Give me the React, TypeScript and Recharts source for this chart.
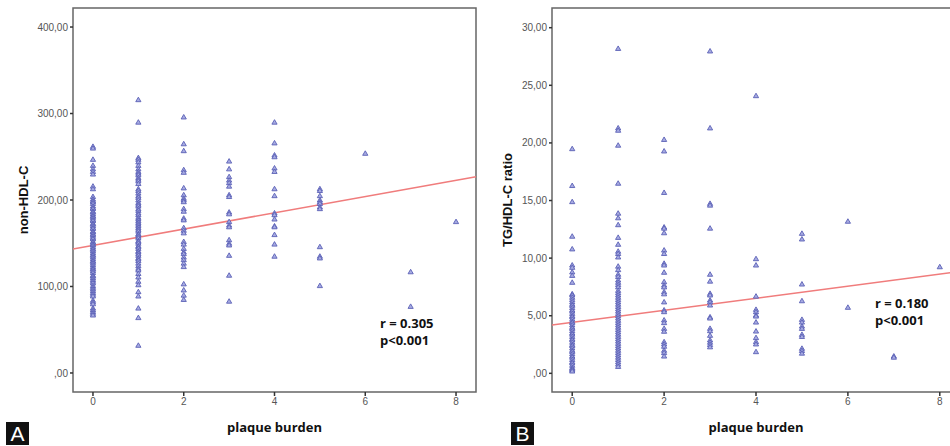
import React from "react";
import {
  ScatterChart,
  Scatter,
  XAxis,
  YAxis,
  ReferenceLine,
  ReferenceArea,
} from "recharts";

// plaque burden groups 0..8
const burdenTicks = [0, 2, 4, 6, 8];
const xDomain: [number, number] = [-0.44, 8.44];

// panel A: non-HDL-C per plaque burden group
const nonHdl0 = [262, 260, 247, 240, 236, 233, 230, 216, 213, 204, 201, 199, 198, 196, 193, 191, 190, 187, 186, 184, 182, 181, 179, 177, 176, 173, 172, 170, 168, 167, 164, 163, 161, 160, 158, 156, 155, 152, 151, 149, 148, 146, 144, 143, 141, 139, 137, 136, 134, 132, 130, 129, 127, 125, 123, 121, 120, 118, 116, 113, 112, 110, 108, 106, 104, 101, 99, 97, 95, 93, 91, 89, 84, 82, 80, 75, 73, 71, 69, 67];
const nonHdl1 = [316, 290, 249, 247, 244, 240, 236, 233, 231, 229, 226, 224, 222, 219, 213, 211, 208, 205, 203, 200, 197, 195, 193, 190, 188, 185, 183, 180, 178, 176, 174, 172, 170, 168, 166, 164, 161, 160, 158, 156, 153, 152, 150, 147, 146, 144, 141, 140, 138, 136, 133, 132, 130, 127, 124, 121, 119, 115, 111, 106, 102, 94, 89, 75, 64, 32];
const nonHdl2 = [296, 265, 257, 235, 232, 214, 206, 202, 200, 198, 190, 187, 179, 177, 168, 165, 162, 152, 149, 144, 140, 138, 134, 131, 127, 123, 103, 96, 90, 85];
const nonHdl3 = [245, 236, 227, 223, 220, 216, 206, 204, 186, 184, 175, 171, 169, 154, 150, 148, 136, 113, 83];
const nonHdl4 = [290, 266, 252, 250, 237, 233, 213, 205, 185, 183, 178, 170, 169, 160, 149, 135];
const nonHdl5 = [213, 211, 205, 200, 198, 196, 192, 190, 146, 135, 133, 101];
const nonHdl6 = [254];
const nonHdl7 = [117, 77];
const nonHdl8 = [175];
const nonHdlTicks = [0, 100, 200, 300, 400];
const nonHdlFit = { intercept: 147.6, slope: 9.4, r: "0.305", p: "0.001" };

// panel B: TG/HDL-C ratio per plaque burden group
const tgHdl0 = [19.5, 16.3, 14.9, 11.9, 10.8, 9.4, 9.2, 8.8, 8.5, 7.9, 6.9, 6.8, 6.6, 6.4, 6.2, 6.0, 5.9, 5.7, 5.5, 5.4, 5.2, 5.0, 4.9, 4.7, 4.5, 4.4, 4.2, 4.0, 3.9, 3.7, 3.5, 3.4, 3.2, 3.0, 2.9, 2.7, 2.5, 2.4, 2.2, 2.0, 1.9, 1.7, 1.5, 1.4, 1.2, 1.0, 0.9, 0.7, 0.5, 0.4, 0.3, 0.2];
const tgHdl1 = [28.2, 21.3, 21.1, 19.8, 16.5, 13.9, 13.5, 12.9, 11.8, 11.2, 10.6, 10.4, 10.1, 9.3, 9.0, 8.6, 8.4, 8.1, 7.9, 7.7, 7.5, 7.2, 7.0, 6.8, 6.6, 6.4, 6.2, 6.0, 5.8, 5.6, 5.4, 5.2, 5.0, 4.8, 4.6, 4.4, 4.2, 4.0, 3.8, 3.6, 3.4, 3.2, 3.0, 2.8, 2.6, 2.4, 2.2, 2.0, 1.8, 1.6, 1.4, 1.2, 1.0, 0.8, 0.6];
const tgHdl2 = [20.3, 19.3, 15.7, 12.7, 12.6, 12.2, 10.7, 10.4, 9.55, 9.4, 8.77, 7.95, 7.66, 7.5, 7.08, 6.9, 6.2, 5.5, 5.35, 4.63, 4.4, 3.9, 3.65, 2.74, 2.55, 2.35, 2.0, 1.8, 1.5];
const tgHdl3 = [27.98, 21.3, 14.75, 14.6, 12.6, 8.6, 8.0, 6.94, 6.8, 6.36, 6.2, 5.93, 4.9, 4.8, 3.9, 3.7, 3.3, 2.9, 2.7, 2.5, 2.3];
const tgHdl4 = [24.1, 9.95, 9.4, 6.7, 5.55, 5.35, 5.06, 4.97, 4.45, 3.67, 3.1, 2.75, 2.55, 1.88];
const tgHdl5 = [12.15, 11.66, 7.75, 6.3, 4.68, 4.45, 4.1, 3.9, 3.38, 3.2, 2.17, 1.98, 1.75];
const tgHdl6 = [13.2, 5.73];
const tgHdl7 = [1.5, 1.4];
const tgHdl8 = [9.25];
const tgHdlTicks = [0, 5, 10, 15, 20, 25, 30];
const tgHdlFit = { intercept: 4.42, slope: 0.525, r: "0.180", p: "0.001" };

const toPoints = (groups: number[][]) =>
  groups.flatMap((vals, i) => vals.map((v) => ({ x: i, y: v })));

const nonHdlPoints = toPoints([nonHdl0, nonHdl1, nonHdl2, nonHdl3, nonHdl4, nonHdl5, nonHdl6, nonHdl7, nonHdl8]);
const tgHdlPoints = toPoints([tgHdl0, tgHdl1, tgHdl2, tgHdl3, tgHdl4, tgHdl5, tgHdl6, tgHdl7, tgHdl8]);

const fmt = (v: number) => (v === 0 ? ",00" : v.toFixed(2).replace(".", ","));

function Triangle(props: any) {
  const { cx, cy } = props;
  if (cx == null || cy == null) return null;
  return (
    <polygon
      points={`${cx},${cy - 2.5} ${cx - 2.6},${cy + 2} ${cx + 2.6},${cy + 2}`}
      fill="#a7abe2"
      stroke="#5a60b6"
      strokeWidth={0.9}
    />
  );
}

const tickStyle = { fill: "#555", fontSize: 10, fontFamily: "Liberation Sans, Arial, sans-serif" };

function Panel({
  width,
  yAxisWidth,
  yDomain,
  yTicks,
  yLabel,
  yLabelX,
  points,
  fit,
}: {
  width: number;
  yAxisWidth: number;
  yDomain: [number, number];
  yTicks: number[];
  yLabel: string;
  yLabelX: number;
  points: { x: number; y: number }[];
  fit: { intercept: number; slope: number };
}) {
  const lineAt = (x: number) => fit.intercept + fit.slope * x;
  return (
    <ScatterChart width={width} height={446} margin={{ top: 8, right: 4, bottom: 0, left: 0 }}>
      <XAxis
        type="number"
        dataKey="x"
        domain={xDomain}
        ticks={burdenTicks}
        allowDataOverflow
        axisLine={false}
        tickSize={4}
        tickLine={{ stroke: "#333", strokeWidth: 1.5 }}
        tick={tickStyle}
        height={54}
        label={{
          value: "plaque burden",
          position: "insideBottom",
          offset: 14,
          style: { fontFamily: "Open Sans, sans-serif", fontWeight: 700, fontSize: 13, fill: "#111" },
        }}
      />
      <YAxis
        type="number"
        dataKey="y"
        domain={yDomain}
        ticks={yTicks}
        allowDataOverflow
        axisLine={false}
        tickSize={3}
        tickLine={{ stroke: "#333", strokeWidth: 1.5 }}
        tick={tickStyle}
        tickFormatter={fmt}
        width={yAxisWidth}
        label={{
          value: yLabel,
          angle: -90,
          position: "insideLeft",
          offset: yLabelX,
          style: { textAnchor: "middle", fontFamily: "Liberation Sans, Arial, sans-serif", fontWeight: 700, fontSize: 13, fill: "#111" },
        }}
      />
      <ReferenceArea
        x1={xDomain[0]}
        x2={xDomain[1]}
        y1={yDomain[0]}
        y2={yDomain[1]}
        fill="none"
        stroke="#666"
        strokeWidth={1.5}
        ifOverflow="visible"
      />
      <Scatter data={points} shape={<Triangle />} isAnimationActive={false} />
      <ReferenceLine
        segment={[
          { x: xDomain[0], y: lineAt(xDomain[0]) },
          { x: xDomain[1], y: lineAt(xDomain[1]) },
        ]}
        stroke="#f07c7c"
        strokeWidth={1.5}
        ifOverflow="visible"
      />
    </ScatterChart>
  );
}

const statStyle: React.CSSProperties = {
  position: "absolute",
  fontFamily: "Open Sans, sans-serif",
  fontWeight: 700,
  fontSize: 13,
  lineHeight: "17px",
  color: "#111",
  whiteSpace: "nowrap",
};

const tagStyle: React.CSSProperties = {
  position: "absolute",
  top: 422,
  width: 23,
  height: 23,
  background: "#111",
  color: "#fff",
  fontFamily: "Liberation Sans, Arial, sans-serif",
  fontSize: 21,
  lineHeight: "23px",
  textAlign: "center",
};

export default function App() {
  return (
    <div
      style={{
        position: "absolute",
        left: 0,
        top: 0,
        width: 950,
        height: 446,
        overflow: "hidden",
        background: "#fff",
      }}
    >
      <div style={{ position: "absolute", left: 0, top: 0 }}>
        <Panel
          width={480}
          yAxisWidth={73}
          yDomain={[-22, 422]}
          yTicks={nonHdlTicks}
          yLabel="non-HDL-C"
          yLabelX={23}
          points={nonHdlPoints}
          fit={nonHdlFit}
        />
      </div>
      <div style={{ position: "absolute", left: 480, top: 0 }}>
        <Panel
          width={484}
          yAxisWidth={72}
          yDomain={[-1.62, 31.71]}
          yTicks={tgHdlTicks}
          yLabel="TG/HDL-C ratio"
          yLabelX={27}
          points={tgHdlPoints}
          fit={tgHdlFit}
        />
      </div>
      <div style={{ ...statStyle, left: 380, top: 315 }}>
        r = {nonHdlFit.r}
        <br />p&lt;{nonHdlFit.p}
      </div>
      <div style={{ ...statStyle, left: 875, top: 295 }}>
        r = {tgHdlFit.r}
        <br />p&lt;{tgHdlFit.p}
      </div>
      <div style={{ ...tagStyle, left: 6 }}>A</div>
      <div style={{ ...tagStyle, left: 511 }}>B</div>
    </div>
  );
}
